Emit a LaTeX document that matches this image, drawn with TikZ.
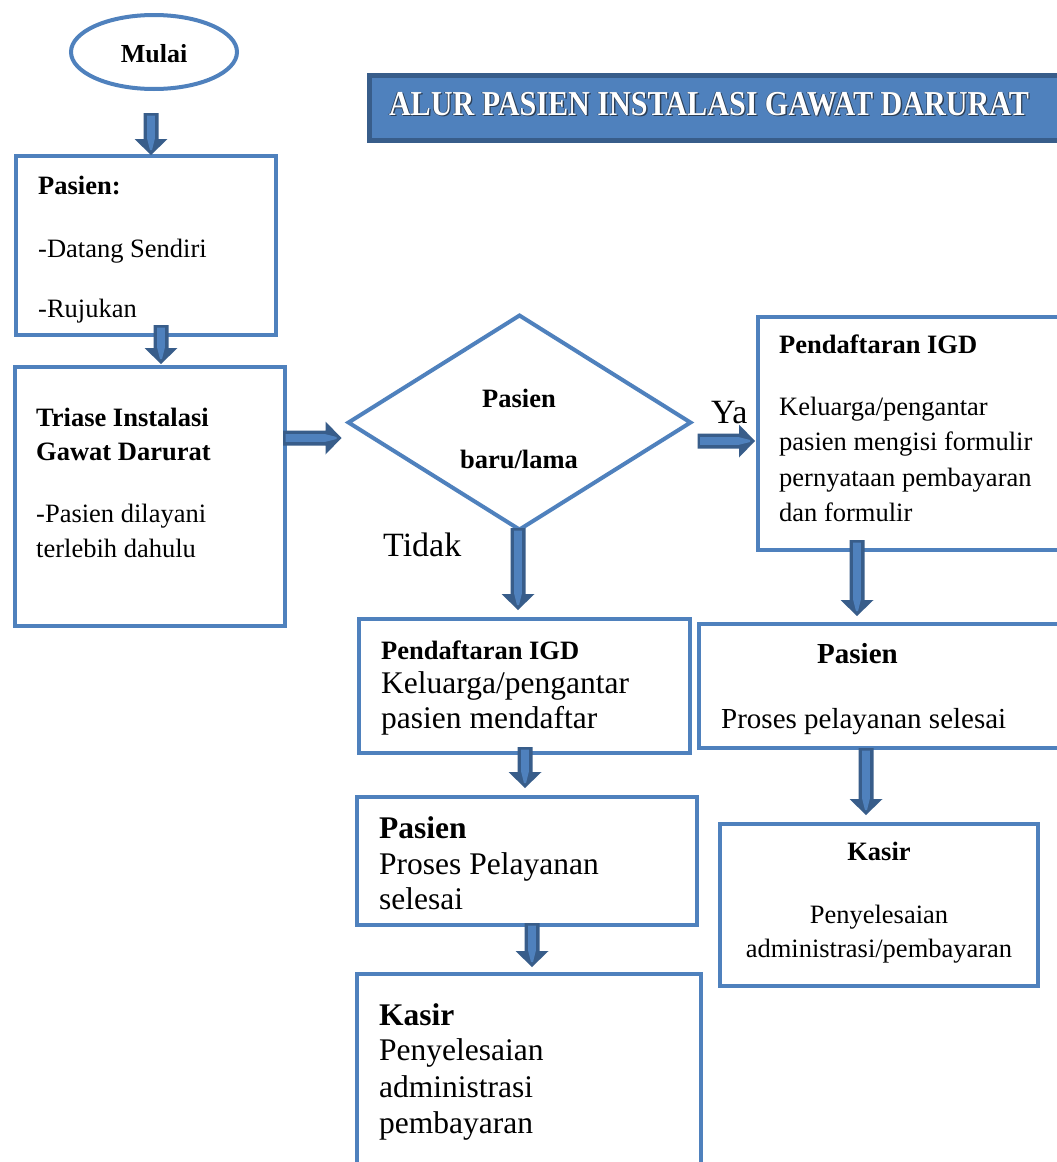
\documentclass[tikz,border=0pt]{standalone}
\usepackage{fontspec}
\setmainfont{Liberation Serif}
\usetikzlibrary{shapes.geometric,calc}
\definecolor{boxblue}{HTML}{4F81BD}
\definecolor{arrdark}{HTML}{385D8A}
\definecolor{arrlight}{HTML}{4F81BD}
\definecolor{bandark}{HTML}{385D8A}
\definecolor{titleshade}{HTML}{2C3E55}
\newcommand{\fsz}[1]{\fontsize{#1}{#1}\selectfont}
\newcommand{\barrow}[2]{%
 \fill[arrdark] let \p1=#1, \p2=#2, \n1={atan2(\y2-\y1,\x2-\x1)}, \n2={veclen(\x2-\x1,\y2-\y1)} in
   ($(\p1)+(\n1+90:7.5pt)$) -- ($(\p1)+(\n1:\n2-16pt)+(\n1+90:7.5pt)$) -- ($(\p1)+(\n1:\n2-16pt)+(\n1+90:16.5pt)$) -- (\p2) -- ($(\p1)+(\n1:\n2-16pt)+(\n1-90:16.5pt)$) -- ($(\p1)+(\n1:\n2-16pt)+(\n1-90:7.5pt)$) -- ($(\p1)+(\n1-90:7.5pt)$) -- cycle;
 \fill[arrlight] let \p1=#1, \p2=#2, \n1={atan2(\y2-\y1,\x2-\x1)}, \n2={veclen(\x2-\x1,\y2-\y1)} in
   ($(\p1)+(\n1:2.5pt)+(\n1+90:3.8pt)$) -- ($(\p1)+(\n1:\n2-16pt)+(\n1+90:3.8pt)$) -- ($(\p1)+(\n1:\n2-5pt)+(\n1+90:1pt)$) -- ($(\p1)+(\n1:\n2-5pt)+(\n1-90:1pt)$) -- ($(\p1)+(\n1:\n2-16pt)+(\n1-90:3.8pt)$) -- ($(\p1)+(\n1:2.5pt)+(\n1-90:3.8pt)$) -- cycle;
}
\begin{document}
\begin{tikzpicture}[x=1pt,y=-1pt,
  box/.style={draw=boxblue, line width=4.5pt, rectangle, inner sep=0pt, outer sep=0pt},
  dia/.style={draw=boxblue, line width=4pt, diamond, inner sep=0pt, outer sep=0pt},
  txt/.style={anchor=base west, inner sep=0pt, font=\fsz{26.5}},
  btxt/.style={anchor=base west, inner sep=0pt, font=\bfseries\fsz{26.5}},
  ctxt/.style={anchor=base, inner sep=0pt, font=\fsz{26.5}},
  cbtxt/.style={anchor=base, inner sep=0pt, font=\bfseries\fsz{26.5}},
  bigtxt/.style={anchor=base west, inner sep=0pt, font=\fsz{31.5}},
  bigbtxt/.style={anchor=base west, inner sep=0pt, font=\bfseries\fsz{31.5}},
  lbl/.style={anchor=base west, inner sep=0pt, font=\fsz{34}},
  ttl/.style={anchor=base, inner sep=0pt, font=\bfseries\fsz{35}, xscale=0.86}]
\useasboundingbox (0,0) rectangle (1057,1162);
\fill[white] (0,0) rectangle (1057,1162);
\clip (0,0) rectangle (1057,1162);

% title banner
\node[rectangle, draw=bandark, fill=boxblue, line width=5pt, inner sep=0pt, outer sep=0pt,
      minimum width=710.5pt, minimum height=65pt] (banner) at (724.75,108) {};
\node[ttl, text=titleshade] (titleshadow) at (710.4,116.4) {ALUR PASIEN INSTALASI GAWAT DARURAT};
\node[ttl, text=titleshade] (titleshadowb) at (708.4,115.6) {ALUR PASIEN INSTALASI GAWAT DARURAT};
\node[ttl, text=white] (title) at (709,115) {ALUR PASIEN INSTALASI GAWAT DARURAT};

% start
\node[ellipse, draw=boxblue, line width=4pt, inner sep=0pt, outer sep=0pt, text height=22pt,
      minimum width=166pt, minimum height=74pt, font=\bfseries\fsz{26}] (mulai) at (154,52) {Mulai};

% boxes
\node[box, minimum width=260pt, minimum height=179pt] (pasien) at (146,245.5) {};
\node[box, minimum width=270pt, minimum height=259pt] (triase) at (150,496.5) {};
\node[dia, minimum width=342pt, minimum height=214pt] (diamond) at (519.5,422.5) {};
\node[box, minimum width=322pt, minimum height=233pt] (pendr) at (919,433.5) {};
\node[box, minimum width=381pt, minimum height=124pt] (pasr) at (889.5,686) {};
\node[box, minimum width=318pt, minimum height=162pt] (kasr) at (879,905) {};
\node[box, minimum width=331pt, minimum height=134pt] (pendm) at (524.5,686) {};
\node[box, minimum width=340pt, minimum height=128pt] (pasm) at (527,861) {};
\node[box, minimum width=344pt, minimum height=206pt] (kasm) at (529,1077) {};

% texts
\node[btxt] (t1) at (38,194) {Pasien:};
\node[txt] (t2) at (38,257) {-Datang Sendiri};
\node[txt] (t3) at (38,317) {-Rujukan};

\node[btxt] (t4) at (36,426) {Triase Instalasi};
\node[btxt] (t5) at (36,460) {Gawat Darurat};
\node[txt] (t6) at (36,522) {-Pasien dilayani};
\node[txt] (t7) at (36,557) {terlebih dahulu};

\node[cbtxt] (t8) at (519,407) {Pasien};
\node[cbtxt] (t9) at (519,468) {baru/lama};

\node[lbl] (ya) at (711,423) {Ya};
\node[lbl] (tidak) at (383,556) {Tidak};

\node[btxt] (t10) at (779,353) {Pendaftaran IGD};
\node[txt] (t11) at (779,415) {Keluarga/pengantar};
\node[txt] (t12) at (779,450) {pasien mengisi formulir};
\node[txt] (t13) at (779,486) {pernyataan pembayaran};
\node[txt] (t14) at (779,521) {dan formulir};

\node[anchor=base west, inner sep=0pt, font=\bfseries\fsz{29}] (t15) at (817,663) {Pasien};
\node[anchor=base west, inner sep=0pt, font=\fsz{29}] (t16) at (721,728) {Proses pelayanan selesai};

\node[cbtxt] (t17) at (879,860) {Kasir};
\node[ctxt] (t18) at (879,923) {Penyelesaian};
\node[ctxt] (t19) at (879,957) {administrasi/pembayaran};

\node[btxt] (t20) at (381,659) {Pendaftaran IGD};
\node[bigtxt] (t21) at (381,693) {Keluarga/pengantar};
\node[bigtxt] (t22) at (381,728) {pasien mendaftar};

\node[bigbtxt] (t23) at (379,838) {Pasien};
\node[bigtxt] (t24) at (379,874) {Proses Pelayanan};
\node[bigtxt] (t25) at (379,909) {selesai};

\node[bigbtxt] (t26) at (379,1025) {Kasir};
\node[bigtxt] (t27) at (379,1060) {Penyelesaian};
\node[bigtxt] (t28) at (379,1097) {administrasi};
\node[bigtxt] (t29) at (379,1133) {pembayaran};

% block arrows
\barrow{($(mulai.south)+(-3,24)$)}{($(pasien.north)+(5,-1)$)}
\barrow{($(pasien.south)+(15,-10)$)}{($(triase.north)+(11,-3)$)}
\barrow{($(triase.east)+(-2,-58.5)$)}{($(diamond.west)+(-7,15.5)$)}
\barrow{($(diamond.east)+(7,18.5)$)}{($(pendr.west)+(-3,7.5)$)}
\barrow{($(diamond.south)+(-1.5,-1.5)$)}{($(pendm.north)+(-6.5,-9)$)}
\barrow{($(pendr.south)+(-62,-10)$)}{($(pasr.north)+(-32.5,-8)$)}
\barrow{($(pasr.south)+(-23.5,0)$)}{($(kasr.north)+(-13,-9)$)}
\barrow{($(pendm.south)+(0.5,-6)$)}{($(pasm.north)+(-2,-9)$)}
\barrow{($(pasm.south)+(5,-2)$)}{($(kasm.north)+(3,-7)$)}
\end{tikzpicture}
\end{document}
